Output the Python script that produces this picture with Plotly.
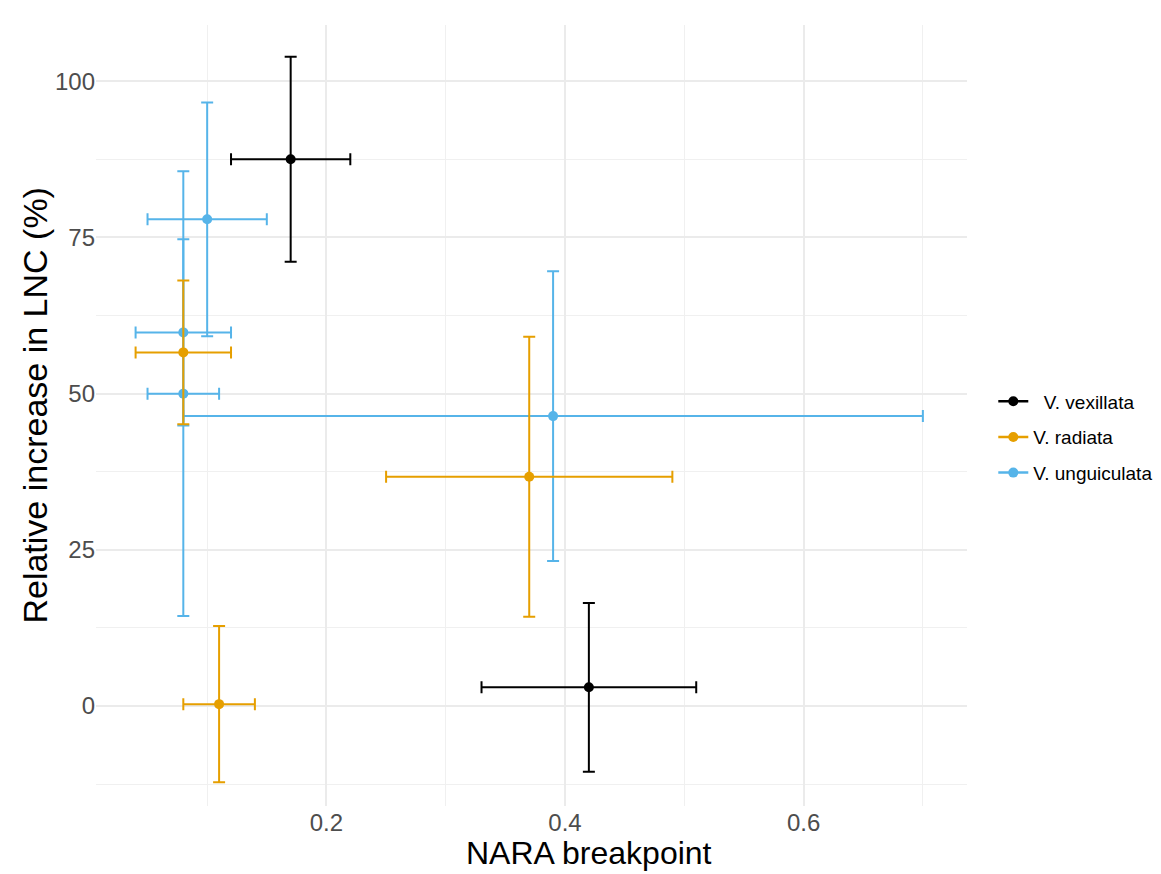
import plotly.graph_objects as go

species = ["\u00a0\u00a0V. vexillata", "V. radiata", "V. unguiculata"]
colors = ["#000000", "#E69F00", "#56B4E9"]

# NARA breakpoint (x) with symmetric error, relative increase in LNC (y) with symmetric error
vex_x = [0.17, 0.42]
vex_xerr = [0.05, 0.09]
vex_y = [87.5, 3.0]
vex_yerr = [16.4, 13.5]

rad_x = [0.08, 0.11, 0.37]
rad_xerr = [0.04, 0.03, 0.12]
rad_y = [56.6, 0.3, 36.7]
rad_yerr = [11.5, 12.5, 22.4]

ung_x = [0.10, 0.08, 0.08, 0.39]
ung_xerr = [0.05, 0.04, 0.03, 0.31]
ung_y = [77.9, 59.8, 50.0, 46.4]
ung_yerr = [18.7, 14.9, 35.6, 23.2]

x_ticks = [0.2, 0.4, 0.6]
y_ticks = [0, 25, 50, 75, 100]

data = {
    species[0]: (vex_x, vex_xerr, vex_y, vex_yerr),
    species[1]: (rad_x, rad_xerr, rad_y, rad_yerr),
    species[2]: (ung_x, ung_xerr, ung_y, ung_yerr),
}

fig = go.Figure()
draw_order = [0, 2, 1]
for i in draw_order:
    name = species[i]
    x, xe, y, ye = data[name]
    c = colors[i]
    fig.add_trace(go.Scatter(
        x=x, y=y, mode="markers", name=name, showlegend=False,
        marker=dict(color=c, size=10),
        error_x=dict(type="data", array=xe, color=c, thickness=2, width=6),
        error_y=dict(type="data", array=ye, color=c, thickness=2, width=6),
    ))

for i, name in enumerate(species):
    fig.add_trace(go.Scatter(
        x=[None], y=[None], mode="lines+markers", name=name,
        legendgroup=name, legendrank=i + 1,
        marker=dict(color=colors[i], size=10),
        line=dict(color=colors[i], width=2.5),
    ))

grid = "#EBEBEB"
fig.update_layout(
    width=1161, height=874,
    margin=dict(l=88, r=201, t=17, b=76),
    plot_bgcolor="white", paper_bgcolor="white",
    font=dict(family="Liberation Sans, Arial, sans-serif"),
    showlegend=True,
    legend=dict(x=1.029, xanchor="left", y=0.472, yanchor="middle",
                font=dict(size=19, color="#000000"), tracegroupgap=8,
                bgcolor="rgba(0,0,0,0)"),
    xaxis=dict(
        range=[0.0068, 0.737], tickvals=x_ticks, ticktext=[str(v) for v in x_ticks],
        showgrid=True, gridcolor=grid, gridwidth=1.5, zeroline=False, showline=False,
        ticks="", tickfont=dict(size=24, color="#4D4D4D"),
        minor=dict(tickvals=[0.1, 0.3, 0.5, 0.7], showgrid=True, gridcolor="#F0F0F0", gridwidth=1),
    ),
    yaxis=dict(
        range=[-16.0, 109.0], tickvals=y_ticks,
        showgrid=True, gridcolor=grid, gridwidth=1.5, zeroline=False, showline=False,
        ticks="", tickfont=dict(size=24, color="#4D4D4D"),
        minor=dict(tickvals=[-12.5, 12.5, 37.5, 62.5, 87.5], showgrid=True, gridcolor="#F0F0F0", gridwidth=1),
    ),
    annotations=[
        dict(text="NARA breakpoint", xref="paper", yref="paper", x=0.566, y=-0.06,
             xanchor="center", yanchor="middle", showarrow=False,
             font=dict(size=32, color="#000000")),
        dict(text="Relative increase in LNC (%)", xref="paper", yref="paper", x=-0.0698, y=0.513,
             xanchor="center", yanchor="middle", showarrow=False, textangle=-90,
             font=dict(size=34, color="#000000")),
    ],
)

fig.write_html("out.html")
